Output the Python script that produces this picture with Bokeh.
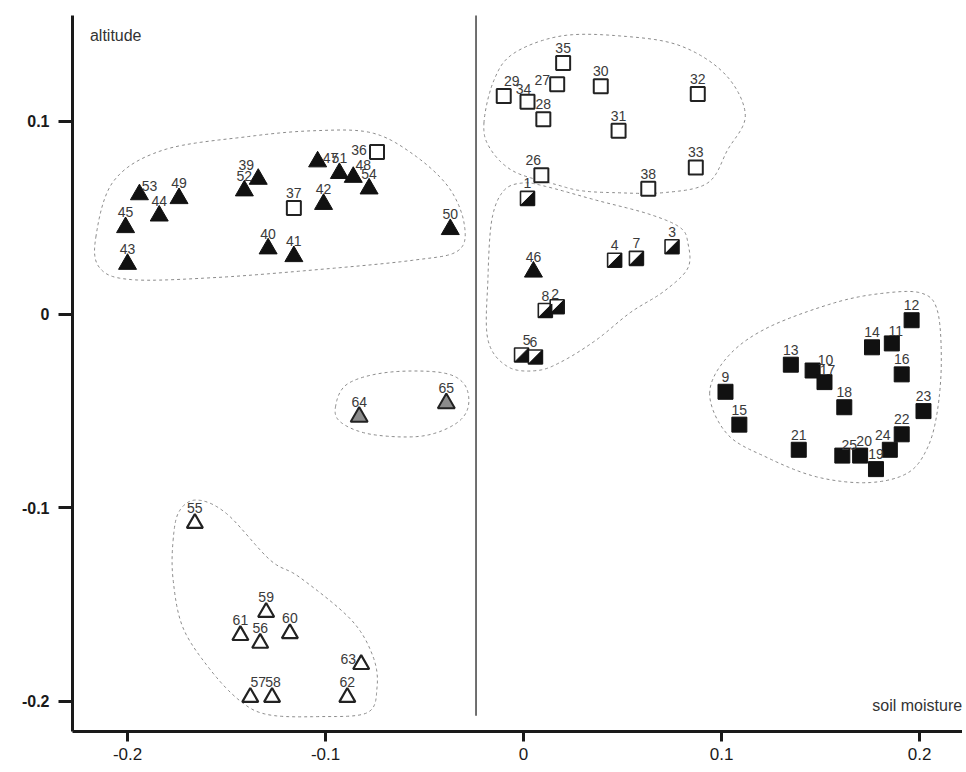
import numpy as np
from bokeh.plotting import figure
from bokeh.models import ColumnDataSource, FixedTicker, Label, Range1d
from bokeh.core.properties import value
from bokeh.embed import file_html
from bokeh.resources import INLINE

# ---------------- data ----------------
# black triangles
tri_ids = ["43", "45", "53", "44", "49", "52", "39", "40", "41", "42", "47", "51", "48", "54", "50", "46"]
tri_x = [-0.200, -0.201, -0.194, -0.184, -0.174, -0.141, -0.134, -0.129, -0.116, -0.101, -0.104, -0.093, -0.086, -0.078, -0.037, 0.005]
tri_y = [0.026, 0.045, 0.062, 0.051, 0.060, 0.064, 0.070, 0.034, 0.030, 0.057, 0.079, 0.073, 0.071, 0.065, 0.044, 0.022]

# open squares
osq_ids = ["36", "37", "29", "34", "27", "35", "28", "30", "31", "32", "33", "26", "38"]
osq_x = [-0.074, -0.116, -0.010, 0.002, 0.017, 0.020, 0.010, 0.039, 0.048, 0.088, 0.087, 0.009, 0.063]
osq_y = [0.084, 0.055, 0.113, 0.110, 0.119, 0.130, 0.101, 0.118, 0.095, 0.114, 0.076, 0.072, 0.065]

# half-filled squares
hsq_ids = ["1", "3", "4", "7", "8", "2", "5", "6"]
hsq_x = [0.002, 0.075, 0.046, 0.057, 0.011, 0.017, -0.001, 0.006]
hsq_y = [0.060, 0.035, 0.028, 0.029, 0.002, 0.004, -0.021, -0.022]

# filled squares
fsq_ids = ["12", "14", "11", "16", "13", "10", "17", "9", "18", "15", "23", "22", "21", "24", "25", "20", "19"]
fsq_x = [0.196, 0.176, 0.186, 0.191, 0.135, 0.146, 0.152, 0.102, 0.162, 0.109, 0.202, 0.191, 0.139, 0.185, 0.161, 0.170, 0.178]
fsq_y = [-0.003, -0.017, -0.015, -0.031, -0.026, -0.029, -0.035, -0.040, -0.048, -0.057, -0.050, -0.062, -0.070, -0.070, -0.073, -0.073, -0.080]

# grey triangles
gtri_ids = ["64", "65"]
gtri_x = [-0.083, -0.039]
gtri_y = [-0.053, -0.046]

# open triangles
otri_ids = ["55", "59", "61", "56", "60", "63", "62", "57", "58"]
otri_x = [-0.166, -0.130, -0.143, -0.133, -0.118, -0.082, -0.089, -0.138, -0.127]
otri_y = [-0.108, -0.154, -0.166, -0.170, -0.165, -0.181, -0.198, -0.198, -0.198]

# label nudges (pixels) for crowded labels: id -> (dx, dy)
label_nudge = {
    "47": (13, 11), "48": (10, 3), "39": (-12, 1), "36": (-18, 13), "53": (10, 6),
    "29": (8, 0), "34": (-4, 2), "27": (-15, 11), "26": (-8, 0), "5": (5, 0),
    "6": (-2, 0), "2": (-2, 2), "63": (-13, 10), "57": (8, 0), "58": (1, 0),
    "25": (7, 4), "20": (4, 0), "24": (-7, 0), "10": (13, 4), "17": (3, 3), "11": (4, 3),
}

# dashed group outlines (control points, data units)
hulls = [
    ([-0.216, -0.207, -0.182, -0.139, -0.106, -0.077, -0.056, -0.038, -0.030, -0.033, -0.056, -0.106, -0.157, -0.198, -0.214],
     [0.040, 0.069, 0.085, 0.092, 0.095, 0.094, 0.083, 0.066, 0.047, 0.033, 0.028, 0.023, 0.019, 0.018, 0.024]),
    ([-0.020, -0.015, -0.005, 0.019, 0.049, 0.079, 0.102, 0.112, 0.103, 0.093, 0.071, 0.045, 0.029, 0.017, -0.005, -0.017],
     [0.099, 0.121, 0.135, 0.144, 0.144, 0.139, 0.124, 0.103, 0.085, 0.068, 0.063, 0.063, 0.064, 0.067, 0.074, 0.086]),
    ([-0.010, 0.000, 0.012, 0.037, 0.063, 0.079, 0.083, 0.083, 0.071, 0.054, 0.037, 0.020, 0.007, -0.008, -0.018, -0.018, -0.016],
     [0.064, 0.068, 0.066, 0.059, 0.052, 0.045, 0.037, 0.024, 0.012, 0.001, -0.013, -0.024, -0.029, -0.027, -0.013, 0.018, 0.049]),
    ([0.094, 0.103, 0.123, 0.157, 0.182, 0.201, 0.209, 0.211, 0.209, 0.204, 0.194, 0.174, 0.148, 0.123, 0.103],
     [-0.041, -0.022, -0.007, 0.006, 0.011, 0.011, 0.002, -0.024, -0.050, -0.069, -0.082, -0.087, -0.084, -0.074, -0.062]),
    ([-0.095, -0.089, -0.069, -0.042, -0.030, -0.028, -0.035, -0.052, -0.077, -0.092],
     [-0.048, -0.036, -0.030, -0.030, -0.036, -0.048, -0.057, -0.063, -0.062, -0.056]),
    ([-0.177, -0.174, -0.165, -0.150, -0.128, -0.113, -0.087, -0.076, -0.074, -0.079, -0.104, -0.129, -0.143, -0.158, -0.172, -0.177],
     [-0.117, -0.102, -0.096, -0.103, -0.127, -0.136, -0.158, -0.177, -0.193, -0.206, -0.208, -0.207, -0.200, -0.184, -0.162, -0.137]),
]

x_ticks = [-0.2, -0.1, 0, 0.1, 0.2]
y_ticks = [-0.2, -0.1, 0, 0.1]
x_tick_labels = ["-0.2", "-0.1", "0", "0.1", "0.2"]
y_tick_labels = ["-0.2", "-0.1", "0", "0.1"]
divider_x = -0.024

# ---------------- figure ----------------
W, H = 962, 768
BL, BR, BT, BB = 72, 0, 15, 37
x0, x1 = -0.2278, 0.2217
y0, y1 = -0.2157, 0.1546

p = figure(width=W, height=H, output_backend="svg", toolbar_location=None,
           x_range=Range1d(x0, x1), y_range=Range1d(y0, y1),
           min_border_left=BL, min_border_right=BR, min_border_top=BT, min_border_bottom=BB)
p.outline_line_color = None
p.grid.visible = False
p.background_fill_color = "white"

# scale: data units per pixel
fw = W - BL - BR
fh = H - BT - BB
ux = (x1 - x0) / fw
uy = (y1 - y0) / fh


def smooth_closed(xs, ys, n=20):
    px = np.array(xs) / ux
    py = np.array(ys) / uy
    P = np.stack([px, py], axis=1)
    m = len(P)
    out = []
    for i in range(m):
        p0, p1, p2, p3 = P[(i - 1) % m], P[i], P[(i + 1) % m], P[(i + 2) % m]
        for t in np.linspace(0, 1, n, endpoint=False):
            t2, t3 = t * t, t * t * t
            pt = 0.5 * ((2 * p1) + (-p0 + p2) * t + (2 * p0 - 5 * p1 + 4 * p2 - p3) * t2 + (-p0 + 3 * p1 - 3 * p2 + p3) * t3)
            out.append(pt)
    out.append(out[0])
    out = np.array(out)
    return list(out[:, 0] * ux), list(out[:, 1] * uy)


for hx, hy in hulls:
    sx, sy = smooth_closed(hx, hy)
    p.line(sx, sy, line_color="#8a8a8a", line_width=1, line_dash="3 3")

# divider line
p.segment(x0=[divider_x], y0=[-0.2075], x1=[divider_x], y1=[y1 + 0.01], line_color="#111111", line_width=1.2)

# markers
p.scatter(tri_x, tri_y, marker="triangle", size=18, fill_color="#111111", line_color="#111111", line_width=1)
p.scatter(otri_x, otri_y, marker="triangle", size=16, fill_color="white", line_color="#222222", line_width=2.2)
p.scatter(gtri_x, gtri_y, marker="triangle", size=17, fill_color="#8c8c8c", line_color="#222222", line_width=2)
p.scatter(osq_x, osq_y, marker="square", size=14, fill_color="white", line_color="#222222", line_width=2)
p.scatter(fsq_x, fsq_y, marker="square", size=15, fill_color="#111111", line_color="#111111", line_width=1)
p.scatter(hsq_x, hsq_y, marker="square", size=14, fill_color="white", line_color="#222222", line_width=1.6)
hs = 6.6
half_xs = [[x - hs * ux, x + hs * ux, x + hs * ux] for x in hsq_x]
half_ys = [[y - hs * uy, y - hs * uy, y + hs * uy] for y in hsq_y]
p.patches(half_xs, half_ys, fill_color="#111111", line_color="#111111", line_width=1)

# labels
all_ids = tri_ids + osq_ids + hsq_ids + fsq_ids + gtri_ids + otri_ids
all_x = tri_x + osq_x + hsq_x + fsq_x + gtri_x + otri_x
all_y = tri_y + osq_y + hsq_y + fsq_y + gtri_y + otri_y
xo = [label_nudge.get(i, (0, 0))[0] for i in all_ids]
yo = [-10 + label_nudge.get(i, (0, 0))[1] for i in all_ids]
lsrc = ColumnDataSource(dict(x=all_x, y=all_y, t=all_ids, xo=xo, yo=yo))
p.text(x="x", y="y", text="t", source=lsrc, x_offset="xo", y_offset="yo",
       text_align="center", text_baseline="bottom", text_font=value("Liberation Sans"),
       text_font_size="14px", text_color="#3a3a3a")

# axis labels inside the plot
p.add_layout(Label(x=-0.219, y=0.144, text="altitude", text_font="Liberation Sans", text_font_size="16px",
                   text_color="#333333", text_baseline="middle", text_align="left"))
p.add_layout(Label(x=0.2215, y=-0.202, text="soil moisture", text_font="Liberation Sans", text_font_size="16px",
                   text_color="#333333", text_baseline="middle", text_align="right"))

# axes
for ax in (p.xaxis[0], p.yaxis[0]):
    ax.axis_line_width = 3
    ax.axis_line_color = "#1a1a1a"
    ax.major_tick_line_width = 3
    ax.major_tick_line_color = "#1a1a1a"
    ax.minor_tick_line_color = None
    ax.major_tick_in = 0
    ax.major_label_text_color = "#1a1a1a"
    ax.major_label_text_font = "Liberation Sans"

p.xaxis.ticker = FixedTicker(ticks=x_ticks)
p.yaxis.ticker = FixedTicker(ticks=y_ticks)
p.xaxis.major_label_overrides = {t: s for t, s in zip(x_ticks, x_tick_labels)}
p.yaxis.major_label_overrides = {t: s for t, s in zip(y_ticks, y_tick_labels)}
p.xaxis.major_tick_out = 10
p.yaxis.major_tick_out = 14
p.xaxis.major_label_standoff = 6
p.yaxis.major_label_standoff = 9
p.xaxis.major_label_text_font_size = "17px"
p.yaxis.major_label_text_font_size = "16px"
p.yaxis.major_label_text_font_style = "bold"

open("out.html", "w").write(file_html(p, INLINE))
